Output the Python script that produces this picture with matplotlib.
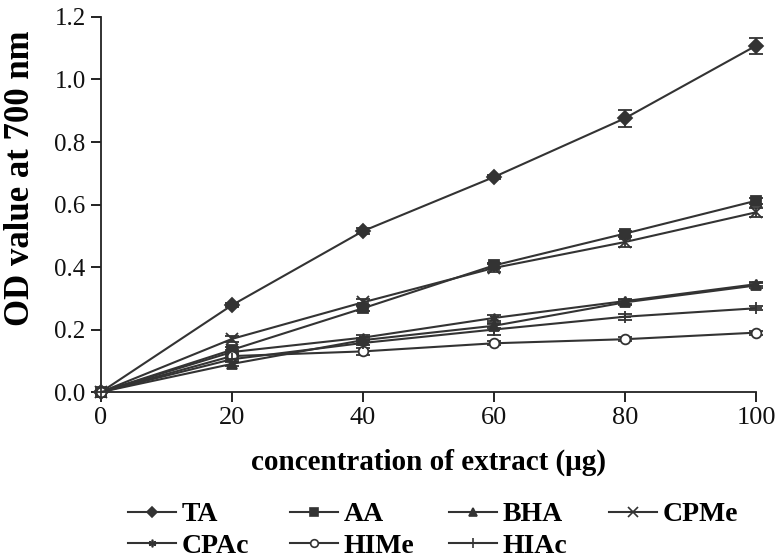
import numpy as np
import matplotlib.pyplot as plt
from matplotlib.lines import Line2D

conc = [0, 20, 40, 60, 80, 100]

ta = [0.0, 0.278, 0.515, 0.688, 0.876, 1.108]
aa = [0.0, 0.135, 0.268, 0.405, 0.507, 0.612]
bha = [0.0, 0.09, 0.166, 0.212, 0.287, 0.341]
cpme = [0.0, 0.170, 0.287, 0.397, 0.480, 0.575]
cpac = [0.0, 0.128, 0.174, 0.237, 0.291, 0.345]
hime = [0.0, 0.115, 0.130, 0.156, 0.169, 0.190]
hiac = [0.0, 0.105, 0.157, 0.200, 0.241, 0.268]

ta_err = [0.0, 0.006, 0.010, 0.006, 0.027, 0.025]
aa_err = [0.0, 0.010, 0.010, 0.008, 0.008, 0.010]
bha_err = [0.0, 0.008, 0.006, 0.008, 0.008, 0.008]
cpme_err = [0.0, 0.010, 0.012, 0.012, 0.015, 0.015]
cpac_err = [0.0, 0.008, 0.008, 0.010, 0.008, 0.006]
hime_err = [0.0, 0.008, 0.010, 0.006, 0.006, 0.006]
hiac_err = [0.0, 0.008, 0.008, 0.018, 0.010, 0.006]

labels = ["TA", "AA", "BHA", "CPMe", "CPAc", "HIMe", "HIAc"]
series = [ta, aa, bha, cpme, cpac, hime, hiac]
errors = [ta_err, aa_err, bha_err, cpme_err, cpac_err, hime_err, hiac_err]
markers = ["D", "s", "^", "x", (6, 2, 0), "o", "+"]

col = "#333333"
plt.rcParams["font.family"] = ["Liberation Serif", "DejaVu Serif"]

fig = plt.figure(figsize=(7.8, 5.59), dpi=100)
ax = fig.add_axes([0.1295, 0.2987, 0.8397, 0.6709])

handles = []
for lab, y, e, m in zip(labels, series, errors, markers):
    face = "white" if lab == "HIMe" else col
    ms = 8 if m in ("x", "+") else 7
    ax.errorbar(conc, y, yerr=e, color=col, lw=1.5, marker=m, markersize=ms,
                markerfacecolor=face, markeredgecolor=col, markeredgewidth=1.3,
                capsize=5, elinewidth=1.3, capthick=1.3, clip_on=False, zorder=3)
    handles.append(Line2D([], [], color=col, lw=1.5, marker=m, markersize=ms - 1.5,
                          markerfacecolor=face, markeredgecolor=col,
                          markeredgewidth=1.2))

ax.set_xlim(0, 100)
ax.set_ylim(0, 1.2)
ax.set_xticks(conc)
yt = np.arange(0, 1.21, 0.2)
ax.set_yticks(yt)
ax.set_yticklabels([f"{v:.1f}" for v in yt])
ax.spines["top"].set_visible(False)
ax.spines["right"].set_visible(False)
for s in ("left", "bottom"):
    ax.spines[s].set_linewidth(1.3)
    ax.spines[s].set_color("#222222")
ax.tick_params(direction="out", length=7, width=1.3, colors="#111111")
ax.tick_params(axis="y", labelsize=18, pad=4)
ax.tick_params(axis="x", labelsize=19, pad=4)

ax.set_xlabel("concentration of extract (μg)", fontsize=21, fontweight="bold")
ax.xaxis.set_label_coords(0.5, -0.15)
ax.set_ylabel("OD value at 700 nm", fontsize=25, fontweight="bold")
ax.yaxis.set_label_coords(-0.098, 0.57)

# legend laid out row by row: TA AA BHA CPMe / CPAc HIMe HIAc
columns = [[0, 4], [1, 5], [2, 6], [3]]
col_x = [0.164, 0.372, 0.576, 0.781]
for idx, x0 in zip(columns, col_x):
    fig.legend([handles[i] for i in idx], [labels[i] for i in idx],
               loc="upper left", bbox_to_anchor=(x0, 0.102), frameon=False,
               prop={"weight": "bold", "size": 20}, handlelength=1.73,
               handletextpad=0.2, labelspacing=0.22,
               borderpad=0, borderaxespad=0)

fig.savefig("out.png", dpi=100)
